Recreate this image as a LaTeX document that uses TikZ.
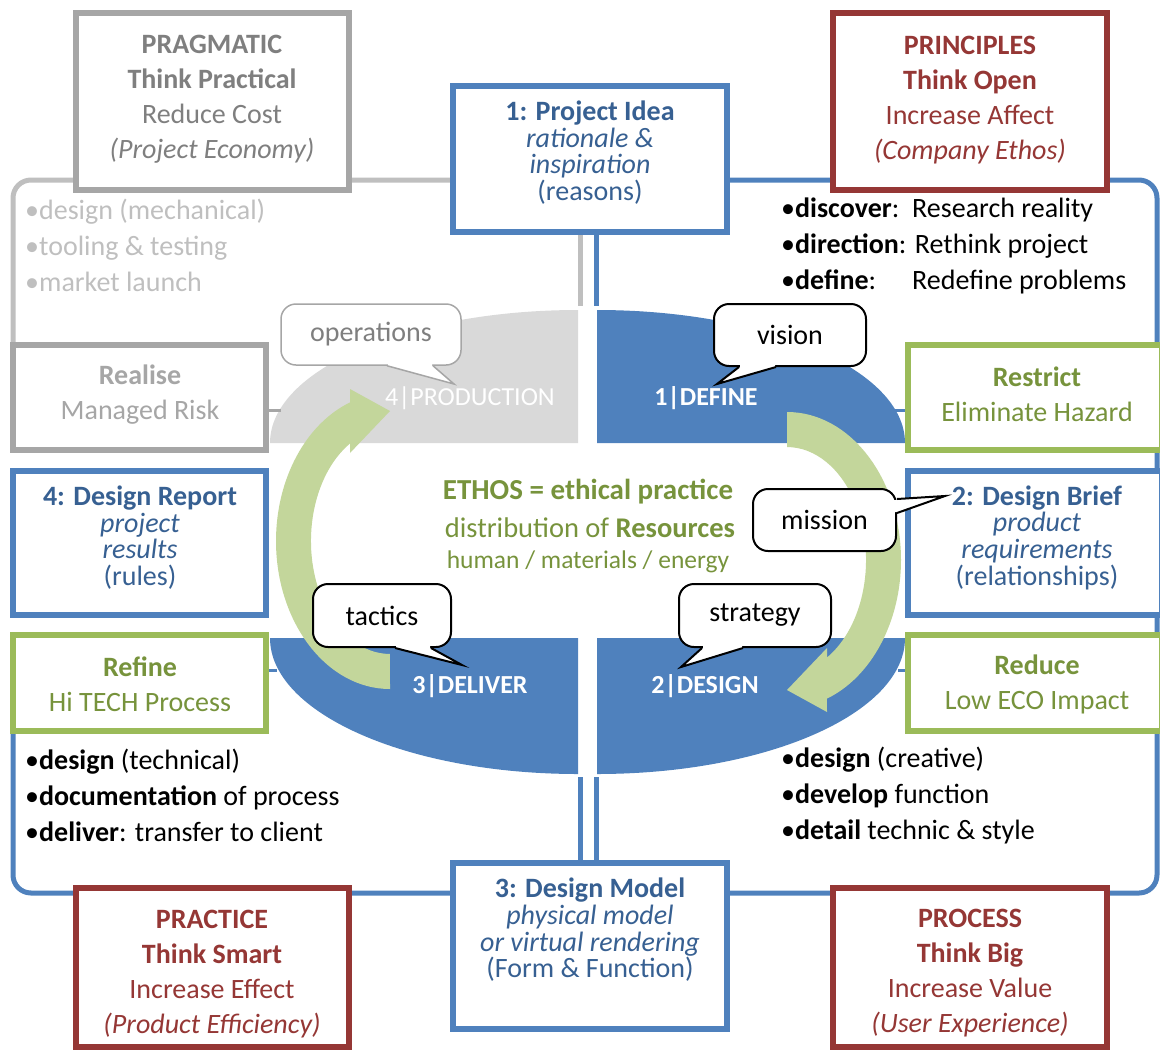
\documentclass[tikz,border=0pt]{standalone}
\usepackage{fontspec}
\setmainfont{Carlito}
\usetikzlibrary{calc}
\definecolor{bblue}{HTML}{4F81BD}
\definecolor{tblue}{HTML}{376092}
\definecolor{dred}{HTML}{953735}
\definecolor{bgreen}{HTML}{9BBB59}
\definecolor{tgreen}{HTML}{77933C}
\definecolor{bgray}{HTML}{A6A6A6}
\definecolor{tgray}{HTML}{7F7F7F}
\definecolor{lgray}{HTML}{BFBFBF}
\definecolor{egray}{HTML}{D9D9D9}
\definecolor{agreen}{HTML}{C3D69B}
\begin{document}
\begin{tikzpicture}[x=1pt,y=-1pt,
  box/.style={draw, line width=6pt, fill=white, inner sep=0pt},
  txt/.style={align=center, inner sep=0pt, font=\fontsize{28}{35}\selectfont},
  tight/.style={align=center, inner sep=0pt, font=\fontsize{28}{26.7}\selectfont},
  bul/.style={align=left, anchor=west, inner sep=0pt, font=\fontsize{28}{36}\selectfont},
  quad/.style={font=\fontsize{26}{30}\selectfont, text=white, inner sep=0pt},
  bub/.style={draw, fill=white, rounded corners=15pt, line width=2pt, inner sep=0pt, minimum height=62pt, font=\fontsize{28}{32}\selectfont},
  bubline/.style={line width=2pt, line join=miter},
  frame/.style={line width=5pt, rounded corners=18pt},
  tick/.style={line width=3pt}]
\useasboundingbox (0,0) rectangle (1160,1053);

% ---------- frames ----------
\draw[frame, lgray] (453,180) -- (13,180) -- (13,346);
\draw[frame, bblue] (727,180) -- (1157,180) -- (1157,893) -- (13,893) -- (13,731);

% ---------- ellipse quarters ----------
\fill[egray] (270,443) arc[start angle=180, end angle=90, x radius=308pt, y radius=133pt] -- (578,443) -- cycle;
\fill[bblue] (597,310) arc[start angle=90, end angle=0, x radius=308pt, y radius=133pt] -- (597,443) -- cycle;
\fill[bblue] (270,638) arc[start angle=180, end angle=270, x radius=308pt, y radius=136pt] -- (578,638) -- cycle;
\fill[bblue] (597,774) arc[start angle=270, end angle=360, x radius=308pt, y radius=136pt] -- (597,638) -- cycle;

% ---------- boxes ----------
\node[box, draw=bgray, minimum width=273pt, minimum height=177pt] (prag) at (212.5,101.5) {};
\node[box, draw=dred,  minimum width=274pt, minimum height=177pt] (princ) at (970,101.5) {};
\node[box, draw=dred,  minimum width=273pt, minimum height=159pt] (pract) at (212.5,967.5) {};
\node[box, draw=dred,  minimum width=274pt, minimum height=159pt] (proc) at (970,967.5) {};
\node[box, draw=bgray, minimum width=253pt, minimum height=105pt] (real) at (139.5,397.5) {};
\node[box, draw=bblue, minimum width=253pt, minimum height=144pt] (rep) at (139.5,543) {};
\node[box, draw=bgreen,minimum width=253pt, minimum height=96pt] (refi) at (139.5,683) {};
\node[box, draw=bgreen,minimum width=254pt, minimum height=105pt] (restr) at (1035,397.5) {};
\node[box, draw=bblue, minimum width=254pt, minimum height=144pt] (brief) at (1035,543) {};
\node[box, draw=bgreen,minimum width=254pt, minimum height=96pt] (redu) at (1035,683) {};

% ---------- connectors between idea/model and the ellipse ----------
\coordinate (gtop) at (580,306);
\coordinate (btop) at (596,306);
\coordinate (gbot) at (580,777);
\coordinate (bbot) at (596,777);
\draw[line width=5pt, lgray] (gtop |- 230,230) -- (gtop);
\draw[line width=5pt, bblue] (btop |- 230,230) -- (btop);
\draw[line width=5pt, bblue] (gbot) -- (gbot |- 865,865);
\draw[line width=5pt, bblue] (bbot) -- (bbot |- 865,865);
\node[box, draw=bblue, minimum width=274pt, minimum height=146pt] (idea) at (590,159) {};
\node[box, draw=bblue, minimum width=274pt, minimum height=166pt] (model) at (590,946) {};

% ---------- small ticks ----------
\coordinate (k1) at (281,410);
\coordinate (k2) at (894,410);
\coordinate (k3) at (277,670);
\coordinate (k4) at (898,670);
\draw[tick, bgray] (k1) -- (real.east |- k1);
\draw[tick, bblue] (k2) -- (restr.west |- k2);
\draw[tick, bblue] (k3) -- (refi.east |- k3);
\draw[tick, bblue] (k4) -- (redu.west |- k4);

% ---------- green cycle arrows ----------
\fill[agreen] (787,412) arc[start angle=90, end angle=-69.5, x radius=114pt, y radius=148pt]
  -- (827,712) -- (787,690) -- (827,648) -- (827,657.5)
  arc[start angle=-59.6, end angle=90, x radius=79pt, y radius=113pt] -- cycle;
\fill[agreen] (390,689) arc[start angle=-90, end angle=-249.5, x radius=114pt, y radius=148pt]
  -- (350,389) -- (390,411) -- (350,453) -- (350,443.5)
  arc[start angle=120.4, end angle=270, x radius=79pt, y radius=113pt] -- cycle;

% ---------- quarter labels ----------
\node[quad] (q4) at (470,398) {4|PRODUCTION};
\node[quad, font=\fontsize{26}{30}\selectfont\bfseries] (q1) at (706,398) {1|DEFINE};
\node[quad, font=\fontsize{26}{30}\selectfont\bfseries] (q3) at (470,686) {3|DELIVER};
\node[quad, font=\fontsize{26}{30}\selectfont\bfseries] (q2) at (705,686) {2|DESIGN};

% ---------- speech bubbles ----------
\node[bub, draw=bgray, line width=1.5pt, text=tgray, minimum width=180pt, minimum height=61pt] (ops) at (371,334.5) {operations};
\coordinate (opstip) at (454,384);
\fill[white] ([xshift=17pt,yshift=3pt]ops.south) -- ([xshift=61pt,yshift=3pt]ops.south) -- ([xshift=61pt]ops.south) -- (opstip) -- ([xshift=17pt]ops.south) -- cycle;
\draw[bubline, line width=1.5pt, bgray] ([xshift=16pt]ops.south) -- (opstip) -- ([xshift=62pt]ops.south);

\node[bub, minimum width=152pt] (vis) at (790,335) {vision};
\coordinate (vistip) at (717,384);
\fill[white] ([xshift=-50pt,yshift=3pt]vis.south) -- ([xshift=-15pt,yshift=3pt]vis.south) -- ([xshift=-15pt]vis.south) -- (vistip) -- ([xshift=-50pt]vis.south) -- cycle;
\draw[bubline] ([xshift=-51pt]vis.south) -- (vistip) -- ([xshift=-14pt]vis.south);

\node[bub, minimum width=143pt] (mis) at (824.5,520) {mission};
\coordinate (mistip) at (945,496);
\fill[white] ([xshift=-3pt,yshift=20pt]mis.east) -- ([xshift=-3pt,yshift=8pt]mis.east) -- ([yshift=8pt]mis.east) -- (mistip) -- ([yshift=20pt]mis.east) -- cycle;
\draw[bubline] ([yshift=21pt]mis.east) -- (mistip) -- ([yshift=7pt]mis.east);

\node[bub, minimum width=138pt, minimum height=63pt] (tac) at (382,615.5) {tactics};
\coordinate (tactip) at (462,665);
\fill[white] ([xshift=14pt,yshift=3pt]tac.south) -- ([xshift=48pt,yshift=3pt]tac.south) -- ([xshift=48pt]tac.south) -- (tactip) -- ([xshift=14pt]tac.south) -- cycle;
\draw[bubline] ([xshift=13pt]tac.south) -- (tactip) -- ([xshift=49pt]tac.south);

\node[bub, minimum width=152pt, minimum height=63pt] (str) at (755,615.5) {strategy};
\coordinate (strtip) at (681,667);
\fill[white] ([xshift=-52pt,yshift=3pt]str.south) -- ([xshift=-13pt,yshift=3pt]str.south) -- ([xshift=-13pt]str.south) -- (strtip) -- ([xshift=-52pt]str.south) -- cycle;
\draw[bubline] ([xshift=-53pt]str.south) -- (strtip) -- ([xshift=-12pt]str.south);

% ---------- box texts ----------
\node[txt, text=tgray] (pragt) at (212,99.5) {\textbf{PRAGMATIC}\\\textbf{Think Practical}\\Reduce Cost\\\textit{(Project Economy)}};
\node[txt, text=dred] (princt) at (970,100) {\textbf{PRINCIPLES}\\\textbf{Think Open}\\Increase Affect\\\textit{(Company Ethos)}};
\node[txt, text=dred] (practt) at (212,974.5) {\textbf{PRACTICE}\\\textbf{Think Smart}\\Increase Effect\\\textit{(Product Efficiency)}};
\node[txt, text=dred] (proct) at (970,973.5) {\textbf{PROCESS}\\\textbf{Think Big}\\Increase Value\\\textit{(User Experience)}};
\node[tight, text=tblue] (ideat) at (590,152.5) {\textbf{1: Project Idea}\\\textit{rationale \&}\\\textit{inspiration}\\(reasons)};
\node[tight, text=tblue] (modelt) at (590,930) {\textbf{3: Design Model}\\\textit{physical model}\\\textit{or virtual rendering}\\(Form \& Function)};
\node[tight, text=tblue] (rept) at (140,537.5) {\textbf{4: Design Report}\\\textit{project}\\\textit{results}\\(rules)};
\node[tight, text=tblue] (brieft) at (1037,537.5) {\textbf{2: Design Brief}\\\textit{product}\\\textit{requirements}\\(relationships)};
\node[txt, text=bgray] (realt) at (140,395) {\textbf{Realise}\\Managed Risk};
\node[txt, text=tgreen] (refit) at (140,684) {\textbf{Refine}\\Hi TECH Process};
\node[txt, text=tgreen] (restrt) at (1037,394.5) {\textbf{Restrict}\\Eliminate Hazard};
\node[txt, text=tgreen] (redut) at (1037,684) {\textbf{Reduce}\\Low ECO Impact};

% ---------- bullet lists ----------
\node[bul, text=lgray] (bulTL) at (25,245) {•design (mechanical)\\•tooling \& testing\\•market launch};
\node[bul] (bulTR) at (781,245.5) {\makebox[131pt][l]{•\textbf{discover}:}Research reality\\•\textbf{direction}: Rethink project\\\makebox[131pt][l]{•\textbf{define}:}Redefine problems};
\node[bul] (bulBL) at (25,795) {•\textbf{design} (technical)\\•\textbf{documentation} of process\\•\textbf{deliver}: transfer to client};
\node[bul] (bulBR) at (781,796) {•\textbf{design} (creative)\\•\textbf{develop} function\\•\textbf{detail} technic \& style};

% ---------- centre text ----------
\node[inner sep=0pt, text=tgreen, font=\fontsize{29}{32}\selectfont\bfseries] (eth) at (588,492) {ETHOS = ethical practice};
\node[inner sep=0pt, text=tgreen, font=\fontsize{28.5}{32}\selectfont] (dist) at (590,528) {distribution of \textbf{Resources}};
\node[inner sep=0pt, text=tgreen, font=\fontsize{25.5}{30}\selectfont] (hum) at (588,562) {human / materials / energy};
\end{tikzpicture}
\end{document}
